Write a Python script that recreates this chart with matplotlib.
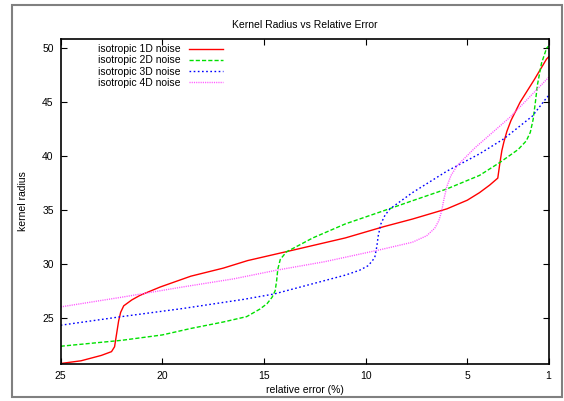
import matplotlib
matplotlib.use('Agg')
from matplotlib import pyplot as plt
from matplotlib.patches import Rectangle

plt.rcParams['font.family'] = ['Liberation Sans', 'DejaVu Sans']

# isotropic 1D noise
err_1d = [25, 24.0, 23.0, 22.5, 22.35, 22.25, 22.15, 22.05, 21.9, 21.5, 21.1, 20.1, 18.6,
          17.0, 15.8, 13.5, 11.0, 9.1, 7.7, 6.0, 5.0, 4.4, 3.9, 3.5, 3.4, 3.3, 3.2, 3.05,
          2.85, 2.4, 1.7, 1.1, 1.0]
rad_1d = [20.75, 21.0, 21.5, 21.85, 22.3, 23.5, 24.7, 25.5, 26.1, 26.65, 27.07, 27.85, 28.85,
          29.6, 30.3, 31.3, 32.4, 33.45, 34.15, 35.1, 35.9, 36.6, 37.3, 37.95, 39.3, 40.5, 41.3, 42.3,
          43.3, 45.0, 47.1, 49.0, 49.2]

# isotropic 2D noise
err_2d = [25, 22, 20, 18.6, 17, 15.85, 15.2, 14.85, 14.6, 14.45, 14.38, 14.32, 14.2, 13.9,
          13.4, 12.6, 11, 9.3, 7.7, 6.0, 4.4, 3.4, 2.5, 2.1, 1.9, 1.76, 1.65, 1.55, 1.35, 1.1, 1.0]
rad_2d = [22.35, 22.9, 23.4, 24.0, 24.6, 25.1, 25.8, 26.3, 26.9, 27.5, 28.4, 29.5, 30.4, 31.1,
          31.6, 32.4, 33.7, 34.8, 35.85, 36.95, 38.2, 39.4, 40.6, 41.4, 42.2, 43.4, 45.0, 46.6, 48.6, 50.0, 50.2]

# isotropic 3D noise
err_3d = [25, 22, 19, 16, 14.5, 12.6, 11, 10.3, 9.9, 9.7, 9.55, 9.45, 9.38, 9.25, 9.05,
          8.8, 7.7, 6.0, 4.4, 3.2, 1.8, 1.1, 1.0]
rad_3d = [24.3, 25.1, 25.85, 26.7, 27.2, 28.15, 28.95, 29.4, 29.8, 30.2, 30.6, 31.6, 32.6, 33.7, 34.5,
          35.1, 36.6, 38.6, 40.2, 41.6, 43.7, 45.4, 45.6]

# isotropic 4D noise
err_4d = [25, 22, 19, 16.5, 14.4, 12, 9.3, 7.7, 7.0, 6.6, 6.4, 6.26, 6.15, 6.0, 5.8, 5.5,
          4.6, 2.9, 1.1, 1.0]
rad_4d = [26.0, 26.9, 27.85, 28.6, 29.4, 30.2, 31.3, 32.0, 32.6, 33.3, 34.0, 34.9, 36.0, 37.2, 38.2, 39.1,
          40.8, 43.6, 47.1, 47.3]

xticks = [25, 20, 15, 10, 5, 1]
yticks = [25, 30, 35, 40, 45, 50]

fig = plt.figure(figsize=(5.64, 4.01), dpi=100)
ax = fig.add_axes([0.1076, 0.093, 0.8651, 0.809])

fs = 7.5
ax.plot(err_1d, rad_1d, color='#ff0000', lw=1.0, label='isotropic 1D noise')
ax.plot(err_2d, rad_2d, color='#00e000', lw=1.0, dashes=(3.0, 1.5), label='isotropic 2D noise')
ax.plot(err_3d, rad_3d, color='#0000ff', lw=1.0, dashes=(1.2, 1.8), label='isotropic 3D noise')
ax.plot(err_4d, rad_4d, color='#ff55ff', lw=1.0, dashes=(0.8, 0.8), label='isotropic 4D noise')

ax.set_xlim(25, 1)
ax.set_ylim(20.73, 50.83)
ax.set_xticks(xticks)
ax.set_yticks(yticks)
ax.tick_params(direction='in', length=4, width=0.8, top=True, right=True, labelsize=fs)
ax.tick_params(axis='x', pad=5)
ax.tick_params(axis='y', pad=5)
for s in ax.spines.values():
    s.set_linewidth(1.2)

ax.set_title('Kernel Radius vs Relative Error', fontsize=fs, pad=8)
ax.set_xlabel('relative error (%)', fontsize=fs, labelpad=3)
ax.set_ylabel('kernel radius', fontsize=fs)
ax.yaxis.set_label_coords(-0.066, 0.5)

ax.legend(loc='upper left', bbox_to_anchor=(0.077, 0.985), frameon=False, fontsize=fs,
          markerfirst=False, handlelength=3.2, handletextpad=0.8, labelspacing=0.12,
          borderpad=0, borderaxespad=0)

# outer frame
fig.patches.append(Rectangle((0.0204, 0.01), 0.976, 0.9775, transform=fig.transFigure,
                             fill=False, edgecolor='#808080', lw=1.5))

plt.savefig('out.png', dpi=100)
